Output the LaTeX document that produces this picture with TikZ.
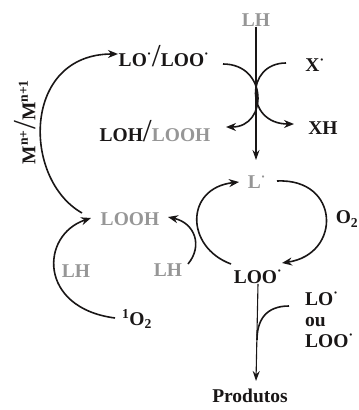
\documentclass[tikz,border=0pt]{standalone}
\usepackage{fontspec}
\setmainfont{Liberation Serif}
\usetikzlibrary{arrows.meta}
\definecolor{gtxt}{RGB}{150,150,150}
\definecolor{ink}{RGB}{25,22,22}
\newcommand{\rd}{\textsuperscript{·}}
\newcommand{\bsl}{{\fontsize{32}{32}\selectfont\mdseries /}}
\begin{document}
\begin{tikzpicture}[x=1pt,y=-1pt,
  lbl/.style={font=\fontsize{19.5}{21}\selectfont\bfseries, inner sep=0pt, text=ink},
  glbl/.style={lbl,text=gtxt},
  arr/.style={draw=ink, line width=1.6pt, -{Stealth[length=10pt,width=8pt]}},
  thinarr/.style={draw=ink, line width=1.1pt, -{Stealth[length=10pt,width=7pt]}},
  crv/.style={draw=ink, line width=1.6pt}]
\useasboundingbox (0,0) rectangle (359,410);

% labels
\node[glbl] (lhtop) at (256,20) {LH};
\node[lbl] (lolooh) at (164,56) {LO\rd\bsl LOO\rd};
\node[lbl] (xdot) at (315,65) {X\rd};
\node[lbl] (lohlooh) at (155,131) {LOH\bsl\textcolor{gtxt}{LOOH}};
\node[lbl] (xh) at (323,128) {XH};
\node[glbl] (ldot) at (257,182) {L\rd};
\node[glbl] (loohL) at (130,219) {LOOH};
\node[lbl] (o2) at (347,219) {O\textsubscript{2}};
\node[glbl] (lhmid) at (168,270) {LH};
\node[glbl] (lhleft) at (76,271) {LH};
\node[lbl] (loo) at (258,277) {LOO\rd};
\node[lbl] (singlet) at (137,319) {\textsuperscript{1}O\textsubscript{2}};
\node[lbl, align=left, anchor=west, text width=60pt] (side) at (305,320) {LO\rd\\ou\\LOO\rd};
\node[lbl] (prod) at (250,396) {Produtos};
\node[lbl, rotate=90] (metal) at (25,122) {M\textsuperscript{n+}\bsl M\textsuperscript{n+1}};

% coordinates
\coordinate (vt) at (256,160);
\coordinate (vb) at (256,381);
\coordinate (cl1) at (223,64);
\coordinate (cl2) at (226,127);
\coordinate (cr1) at (286,63);
\coordinate (cr2) at (294,124);
\coordinate (a1) at (231,264);
\coordinate (a2) at (239,182);
\coordinate (b1) at (277,181);
\coordinate (b2) at (282,263);
\coordinate (h1) at (188,264);
\coordinate (h2) at (168,217);
\coordinate (s1) at (115,318);
\coordinate (s2) at (91,218);
\coordinate (m1) at (82,213);
\coordinate (m2) at (118,54);
\coordinate (j1) at (289,306);
\coordinate (j2) at (257,340);

% vertical arrow from top LH to L.
\draw[thinarr] (lhtop.south) -- (vt);
% crossing arcs
\draw[arr] (cl1) .. controls (268,64) and (268,127) .. (cl2);
\draw[arr] (cr1) .. controls (245,63) and (245,124) .. (cr2);
% cycle
\draw[arr] (a1) .. controls (185,247) and (185,188) .. (a2);
\draw[arr] (b1) .. controls (340,178) and (342,254) .. (b2);
% LH to LOOH
\draw[arr] (h1) .. controls (203,246) and (195,223) .. (h2);
% singlet oxygen to LOOH
\draw[arr] (s1) .. controls (38,308) and (40,235) .. (s2);
% metal arc
\draw[arr] (m1) .. controls (22,179) and (22,54) .. (m2);
% products
\draw[thinarr] (loo.south) -- (vb);
\draw[crv] (j1) .. controls (266,306) and (257,320) .. (j2);
\end{tikzpicture}
\end{document}
